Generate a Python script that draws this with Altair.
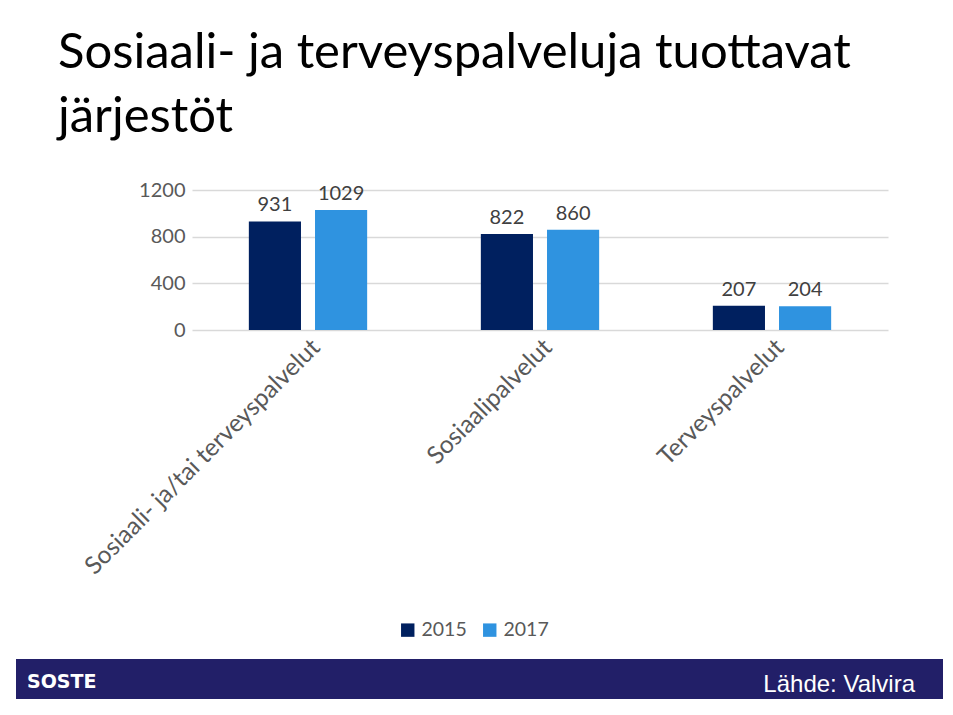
import altair as alt
import pandas as pd

# ---- data ----
categories = ["Sosiaali- ja/tai terveyspalvelut", "Sosiaalipalvelut", "Terveyspalvelut"]
years = ["2015", "2017"]
values_2015 = [931, 822, 207]
values_2017 = [1029, 860, 204]
y_ticks = [0, 200, 400, 600, 800, 1000, 1200]
title_lines = ["Sosiaali- ja terveyspalveluja tuottavat", "järjestöt"]
logo_text = "SOSTE"
source_text = "Lähde: Valvira"
colors = ["#00205f", "#2f93e0"]

rows = []
for c, a, b in zip(categories, values_2015, values_2017):
    rows.append({"cat": c, "year": years[0], "value": a})
    rows.append({"cat": c, "year": years[1], "value": b})
df = pd.DataFrame(rows)
one = pd.DataFrame({"k": [0]})

FONT = "Lato"
W, H = 696, 140

x_enc = alt.X("cat:N", sort=categories, title=None,
              scale=alt.Scale(paddingInner=0.49, paddingOuter=0.245),
              axis=alt.Axis(labelAngle=-45, labelFontSize=24.5, labelColor="#595959",
                            labelFont=FONT, ticks=False, domain=False, labelPadding=5,
                            bandPosition=0.33, labelLimit=500, grid=False))
xo_enc = alt.XOffset("year:N", sort=years,
                     scale=alt.Scale(paddingInner=0.212, paddingOuter=0))
y_enc = alt.Y("value:Q", title=None,
              scale=alt.Scale(domain=[0, 1200], nice=False),
              axis=alt.Axis(values=y_ticks, format="d",
                            labelExpr="datum.value % 400 == 0 ? datum.label : ''",
                            labelFontSize=20, labelColor="#595959", labelFont=FONT,
                            ticks=False, domain=False, labelPadding=7,
                            gridColor="#d9d9d9", gridWidth=1.3))

bars = alt.Chart(df).mark_bar().encode(
    x=x_enc, xOffset=xo_enc, y=y_enc,
    color=alt.Color("year:N", sort=years,
                    scale=alt.Scale(domain=years, range=colors),
                    legend=alt.Legend(title=None, orient="none", direction="horizontal",
                                      legendX=206, legendY=430, symbolType="square",
                                      symbolSize=180, symbolStrokeWidth=0,
                                      labelFontSize=19.5, labelColor="#595959",
                                      labelFont=FONT, columnPadding=13, labelOffset=4)),
)

labels = alt.Chart(df).mark_text(baseline="bottom", dy=-6, fontSize=20,
                                 color="#404040", font=FONT).encode(
    x=alt.X("cat:N", sort=categories), xOffset=alt.XOffset("year:N", sort=years),
    y="value:Q", text="value:Q")

title = alt.Chart(one).mark_text(text=title_lines, align="left", baseline="alphabetic",
                                 fontSize=49, font=FONT, color="#000000",
                                 lineHeight=64).encode(
    x=alt.value(-134), y=alt.value(-122))

footer = alt.Chart(one).mark_rect(color="#221f68").encode(
    x=alt.value(-176), x2=alt.value(751), y=alt.value(469), y2=alt.value(509))

logo = alt.Chart(one).mark_text(text=logo_text, align="left", baseline="alphabetic",
                                fontSize=19, font="DejaVu Sans", fontWeight="bold",
                                color="white").encode(
    x=alt.value(-165), y=alt.value(498))

source = alt.Chart(one).mark_text(text=source_text, align="right", baseline="alphabetic",
                                  fontSize=24, font="Liberation Sans",
                                  color="white").encode(
    x=alt.value(723), y=alt.value(502))

chart = alt.layer(bars, labels, title, footer, logo, source).properties(
    width=W, height=H,
    background="white",
    autosize=alt.AutoSizeParams(type="none"),
    padding={"left": 184, "top": 182, "right": 57, "bottom": 377},
).configure_view(stroke=None)

chart.save("out.html", embed_options={"renderer": "svg", "actions": False})
